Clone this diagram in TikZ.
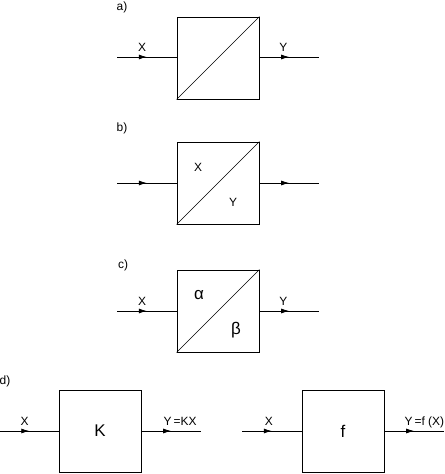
\documentclass[tikz,border=0pt]{standalone}
\usepackage{fontspec}
\setmainfont{Liberation Sans}
\usepackage{tikz}
\usetikzlibrary{arrows.meta,decorations.markings}

\begin{document}
\begin{tikzpicture}[x=1bp,y=-1bp,>=Stealth,every node/.style={font=\fontsize{12}{14}\selectfont},
  blockbox/.style={draw,line width=0.8bp,minimum width=82bp,minimum height=82bp,inner sep=0pt},
  midarrow/.style={line width=0.8bp,postaction={decorate},decoration={markings,
    mark=at position 0.5 with {\arrow{Latex[length=8bp,width=5bp]}}}},
  siglabel/.style={above=5bp,inner sep=0pt,text depth=0pt},
  bigtext/.style={font=\fontsize{17}{19}\selectfont}]
\useasboundingbox (0,0) rectangle (445,474);
% a)
\node (la) at (122,7) {a)};
\node[blockbox] (boxA) at (218,58) {};
\coordinate (inA) at (117,57);
\coordinate (outA) at (319,57);
\draw[line width=0.5bp] (boxA.south west) -- (boxA.north east);
\draw[midarrow] (inA) -- node[pos=0.42,siglabel]{X} (boxA.west |- inA);
\draw[midarrow] (boxA.east |- outA) -- node[pos=0.4,siglabel]{Y} (outA);
% b)
\node (lb) at (122,128) {b)};
\node[blockbox] (boxB) at (218,183) {};
\coordinate (inB) at (117,183);
\coordinate (outB) at (319,183);
\draw[line width=0.5bp] (boxB.south west) -- (boxB.north east);
\node (xB) at (198,167) {X};
\node (yB) at (233,202) {Y};
\draw[midarrow] (inB) -- (boxB.west |- inB);
\draw[midarrow] (boxB.east |- outB) -- (outB);
% c)
\node (lc) at (123,265) {c)};
\node[blockbox] (boxC) at (218,311) {};
\coordinate (inC) at (117,311);
\coordinate (outC) at (319,311);
\draw[line width=0.5bp] (boxC.south west) -- (boxC.north east);
\node[bigtext] (alphaC) at (199,295) {α};
\node[bigtext] (betaC) at (236,330) {β};
\draw[midarrow] (inC) -- node[pos=0.42,siglabel]{X} (boxC.west |- inC);
\draw[midarrow] (boxC.east |- outC) -- node[pos=0.4,siglabel]{Y} (outC);
% d)
\node (ld) at (5,381) {d)};
\node[blockbox,bigtext] (boxK) at (100,431) {K};
\coordinate (inK) at (0,431);
\coordinate (outK) at (201,431);
\draw[midarrow] (inK) -- node[pos=0.42,siglabel]{X} (boxK.west);
\draw[midarrow] (boxK.east) -- node[pos=0.65,siglabel]{Y$\,$=KX} (outK);
\node[blockbox,bigtext] (boxF) at (343,431) {f};
\coordinate (inF) at (242,431);
\coordinate (outF) at (444,431);
\draw[midarrow] (inF) -- node[pos=0.45,siglabel]{X} (boxF.west);
\draw[midarrow] (boxF.east) -- node[pos=0.67,siglabel]{Y$\,$=f (X)} (outF);
\end{tikzpicture}
\end{document}
